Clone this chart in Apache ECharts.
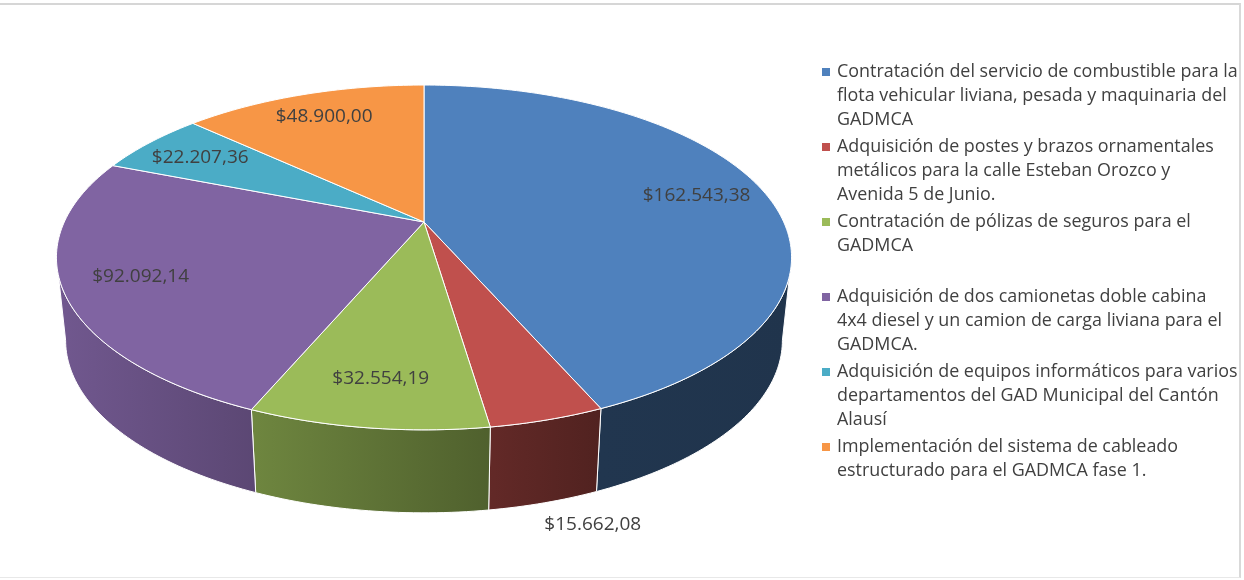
<!DOCTYPE html>
<html>
<head>
<meta charset="UTF-8">
<title></title>
<script src="https://cdn.jsdelivr.net/npm/echarts@6/dist/echarts.min.js"></script>
<style>
body { margin: 0; background: #fff; }
#main { position: absolute; left: 0; top: 0; width: 1244px; height: 580px; }
#frame { position: absolute; left: -2px; top: 3px; width: 1241px; height: 572px;
  border-top: 2px solid #d6d6d6; border-right: 2px solid #d9d9d9; border-bottom: 1px solid #e8e8e8;
  pointer-events: none; }
</style>
</head>
<body>
<div id="main"></div>
<div id="frame"></div>
<script>
// datos del gráfico
var categories = [
  'Contratación del servicio de combustible para la\nflota vehicular liviana, pesada y maquinaria del\nGADMCA',
  'Adquisición de postes y brazos ornamentales\nmetálicos para la calle Esteban Orozco y\nAvenida 5 de Junio.',
  'Contratación de pólizas de seguros para el\nGADMCA\n',
  'Adquisición de dos camionetas doble cabina\n4x4 diesel y un camion de carga liviana para el\nGADMCA.',
  'Adquisición de equipos informáticos para varios\ndepartamentos del GAD Municipal del Cantón\nAlausí',
  'Implementación del sistema de cableado\nestructurado para el GADMCA fase 1.\n'
];
var values = [162543.38, 15662.08, 32554.19, 92092.14, 22207.36, 48900.00];
var colors = ['#4F81BD', '#C0504D', '#9BBB59', '#8064A2', '#4BACC6', '#F79646'];

// geometría de la torta 3D (perspectiva)
var CX = 424, CY = 222;
var TILT_S = 0.459, TILT_C = 0.888, DIST = 4.32, FOCAL = 1554;
var DEPTH = 83, SHRINK = 0.975;
var STEP = Math.PI / 180;
var FONT = '19px "Open Sans"';

var total = 0, starts = [];
for (var i = 0; i < values.length; i++) { starts.push(total); total += values[i]; }
starts = starts.map(function (s) { return s / total * Math.PI * 2; });

var frontLo = Math.acos(-TILT_C / DIST), frontHi = Math.PI * 2 - frontLo;

function project(theta, r) {
  var u = r * Math.sin(theta), v = r * Math.cos(theta);
  var w = DIST + v * TILT_C;
  return [CX + FOCAL * u / w, CY - FOCAL * v * TILT_S / w];
}
function drop(p) { return [CX + (p[0] - CX) * SHRINK, p[1] + DEPTH]; }

function shade(hex, f) {
  var n = parseInt(hex.slice(1), 16);
  var r = Math.round(((n >> 16) & 255) * f), g = Math.round(((n >> 8) & 255) * f), b = Math.round((n & 255) * f);
  return 'rgb(' + r + ',' + g + ',' + b + ')';
}
function wallFill(hex) {
  return {
    type: 'linear', x: 57, y: 0, x2: 790, y2: 0, global: true,
    colorStops: [
      { offset: 0, color: shade(hex, 0.88) },
      { offset: 0.74, color: shade(hex, 0.42) },
      { offset: 1, color: shade(hex, 0.40) }
    ]
  };
}
function money(v) {
  var p = v.toFixed(2).split('.');
  return '$' + p[0].replace(/\B(?=(\d{3})+(?!\d))/g, '.') + ',' + p[1];
}

function renderSlice(params, api) {
  var i = params.dataIndex;
  var a0 = starts[i], a1 = a0 + values[i] / total * Math.PI * 2;
  var k, steps = Math.max(2, Math.ceil((a1 - a0) / STEP));
  var face = [project(0, 0)];
  for (k = 0; k <= steps; k++) face.push(project(a0 + (a1 - a0) * k / steps, 1));
  var children = [{
    type: 'polygon', z2: 10, shape: { points: face },
    style: { fill: colors[i], stroke: '#fff', lineWidth: 1 }
  }];
  var lo = Math.max(a0, frontLo), hi = Math.min(a1, frontHi);
  if (hi > lo) {
    var n = Math.max(2, Math.ceil((hi - lo) / STEP));
    var upper = [], lower = [];
    for (k = 0; k <= n; k++) {
      var p = project(lo + (hi - lo) * k / n, 1);
      upper.push(p);
      lower.unshift(drop(p));
    }
    children.push({
      type: 'polygon', z2: 1, shape: { points: upper.concat(lower) },
      style: { fill: wallFill(colors[i]), stroke: '#fff', lineWidth: 1 }
    });
  }
  // etiqueta
  var mid = (a0 + a1) / 2, pos, align = 'center';
  if (values[i] / total < 0.05) {
    var e = drop(project(mid, 1));
    pos = [e[0], e[1] + 22];
    align = 'left';
  } else {
    pos = project(mid, 0.8);
  }
  children.push({
    type: 'text', z2: 20,
    style: { text: money(values[i]), x: pos[0], y: pos[1], align: align, verticalAlign: 'middle', fill: '#404040', font: FONT }
  });
  return { type: 'group', children: children };
}

var myChart = echarts.init(document.getElementById('main'));
var option = {
  animation: false,
  color: colors,
  legend: {
    orient: 'vertical',
    left: 817,
    top: 55,
    itemWidth: 10,
    itemHeight: 72,
    itemGap: 3,
    selectedMode: false,
    icon: 'path://M0,0h0M10,72h0M0,8H8V16H0Z',
    itemStyle: { borderWidth: 0 },
    textStyle: { fontFamily: 'Open Sans', fontSize: 17.9, lineHeight: 24, color: '#404040' },
    data: categories
  },
  series: [
    {
      // solo para la leyenda
      type: 'pie',
      center: [-500, -500],
      radius: 10,
      silent: true,
      label: { show: false },
      data: categories.map(function (c, i) { return { name: c, value: values[i] }; })
    },
    {
      type: 'custom',
      coordinateSystem: 'none',
      silent: true,
      renderItem: renderSlice,
      data: values.map(function (v) { return [v]; })
    }
  ]
};
myChart.setOption(option);
</script>
</body>
</html>
